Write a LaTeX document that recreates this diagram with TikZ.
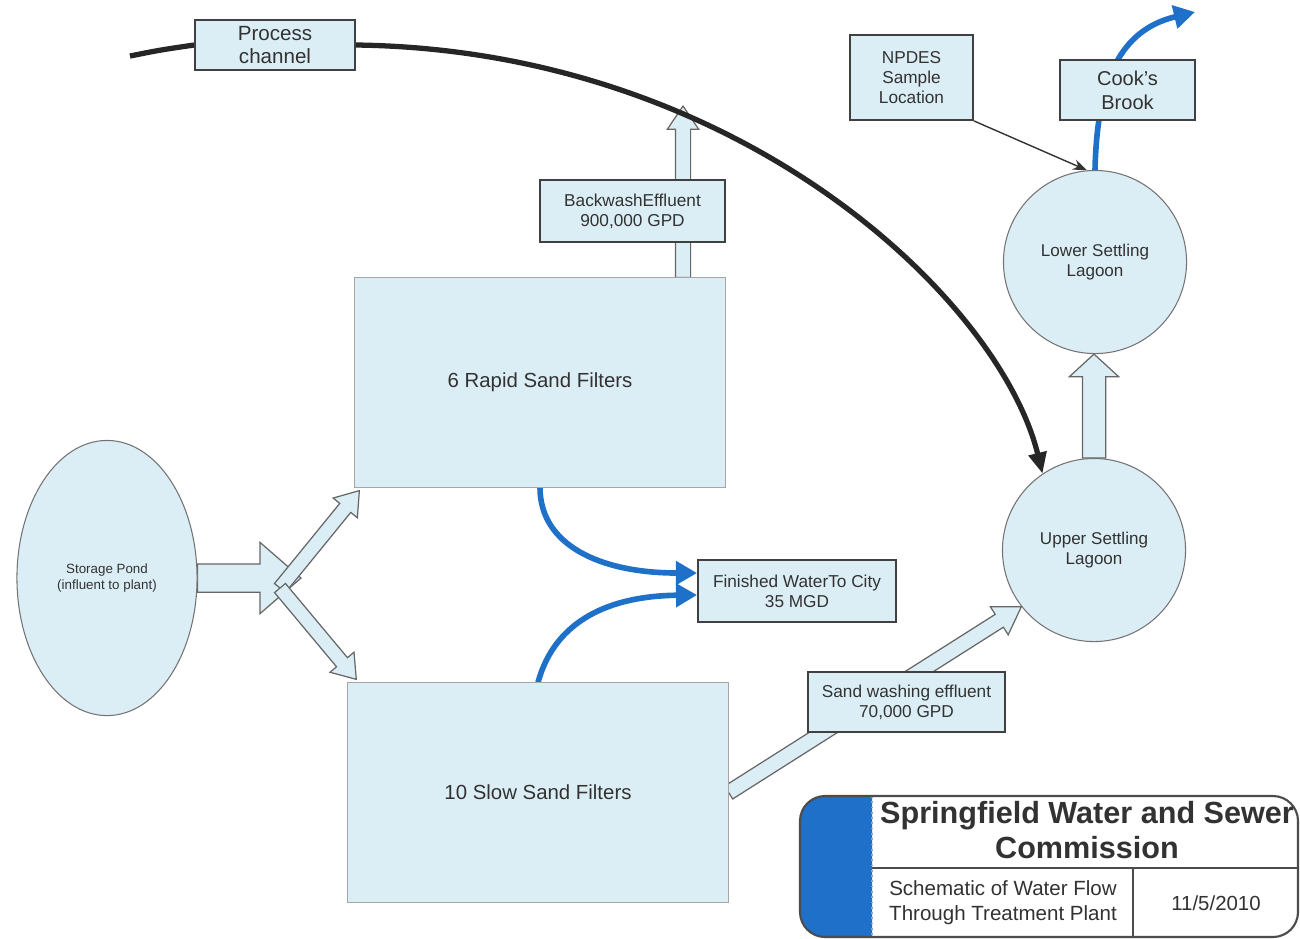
\documentclass[tikz,border=0pt]{standalone}
\usepackage{fontspec}
\setmainfont{Liberation Sans}
\usetikzlibrary{shapes.geometric,shapes.arrows,arrows.meta,calc,backgrounds}

\definecolor{pale}{RGB}{220,238,245}
\definecolor{flowblue}{RGB}{30,112,200}
\definecolor{inkgrey}{RGB}{50,50,50}

% wide outlined flow arrow from #2 to #3
\newcommand{\hollowarrow}[3][]{%
  \path let \p1=($(#3)-(#2)$), \n1={atan2(\y1,\x1)}, \n2={veclen(\x1,\y1)} in
    node[flowarrow,#1,minimum height=\n2,rotate=\n1,anchor=tail] at (#2) {};}

\begin{document}
\begin{tikzpicture}[
        x=0.01cm, y=-0.01cm,
        every node/.style = {text=inkgrey},
        box/.style = {draw=black!75, line width=0.5pt, fill=pale, align=center, inner sep=0pt,
                      font=\fontsize{4.9}{5.7}\selectfont},
        filterbox/.style = {draw=black!35, line width=0.3pt, fill=pale, inner sep=0pt,
                      font=\fontsize{5.8}{6.8}\selectfont},
        lagoon/.style = {circle, draw=black!55, line width=0.3pt, fill=pale, minimum size=1.83cm,
                      align=center, inner sep=0pt, font=\fontsize{4.85}{5.7}\selectfont},
        flowarrow/.style = {single arrow, draw=black!60, line width=0.35pt, fill=pale,
                      inner xsep=0pt, minimum width=0pt, outer sep=0pt},
        blueflow/.style = {flowblue, line width=1.6pt, -{Triangle[length=6pt,width=6.5pt]}},
        channel/.style = {black!85, line width=1.5pt}
        ]
    \useasboundingbox (0,0) rectangle (1300,938);
    \clip (0,0) rectangle (1300,938);

    % main units
    \node[filterbox, minimum width=3.7cm, minimum height=2.09cm] (rapid) at (540,382.5) {6 Rapid Sand Filters};
    \node[filterbox, minimum width=3.8cm, minimum height=2.19cm] (slow) at (538,792.5) {10 Slow Sand Filters};
    \node[ellipse, draw=black!55, line width=0.3pt, fill=pale, minimum width=1.8cm, minimum height=2.75cm,
          align=center, inner sep=0pt, font=\fontsize{3.8}{4.6}\selectfont] (pond) at (107,578)
          {Storage Pond\\(influent to plant)};
    \node[lagoon] (lower) at (1095,262) {Lower Settling\\Lagoon};
    \node[lagoon] (upper) at (1094,550) {Upper Settling\\Lagoon};

    % labels
    \node[box, font=\fontsize{5.85}{6.8}\selectfont, minimum width=1.6cm, minimum height=0.5cm] (pc) at (275,45) {Process\\channel};
    \node[box, minimum width=1.23cm, minimum height=0.85cm] (npdes) at (911.5,77.5) {NPDES\\Sample\\Location};
    \node[box, font=\fontsize{5.7}{6.8}\selectfont, minimum width=1.35cm, minimum height=0.6cm] (brook) at (1127.5,90) {Cook's\\Brook};
    \node[box, minimum width=1.85cm, minimum height=0.62cm] (bw) at (632.5,211) {BackwashEffluent\\900,000 GPD};
    \node[box, minimum width=1.98cm, minimum height=0.62cm] (fin) at (797,591) {Finished WaterTo City\\35 MGD};
    \node[box, minimum width=1.97cm, minimum height=0.6cm] (sw) at (906.5,702) {Sand washing effluent\\70,000 GPD};

    \coordinate (chstart) at (130,56);
    \coordinate (pondtip) at (301,578);
    \coordinate (split) at (280,588);
    \coordinate (rapidin) at ($(rapid.south west)+(5,3)$);
    \coordinate (slowin) at ($(slow.north west)+(9,-3)$);
    \coordinate (bwtip) at (683,106);
    \coordinate (bwfoot) at (bwtip |- rapid.north);
    \coordinate (lowerin) at (upper.north |- lower.south);
    \coordinate (finA) at ($(fin.west)+(0,-18)$);
    \coordinate (finB) at ($(fin.west)+(0,4)$);
    \coordinate (brookout) at (1195,12);

    \begin{scope}[on background layer]
        \hollowarrow[inner ysep=0.135cm, single arrow head extend=0.215cm, single arrow tip angle=82]{pond.east}{pondtip}
        \hollowarrow[inner ysep=0.065cm, single arrow head extend=0.085cm, single arrow tip angle=70]{split}{rapidin}
        \hollowarrow[inner ysep=0.065cm, single arrow head extend=0.085cm, single arrow tip angle=70]{split}{slowin}
        \hollowarrow[inner ysep=0.07cm, single arrow head extend=0.08cm, single arrow tip angle=68]{bwfoot}{bwtip}
        \hollowarrow[inner ysep=0.11cm, single arrow head extend=0.13cm, single arrow tip angle=95]{upper.north}{lowerin}
        \hollowarrow[inner ysep=0.07cm, single arrow head extend=0.09cm, single arrow tip angle=65]{slow.east}{upper.218}

        % process channel to the lagoons
        \draw[channel] (chstart) .. controls (160,50) .. (pc.west);
        \draw[channel, -{Triangle[length=6pt,width=5pt]}] (pc.east) .. controls (740,50) and (1000,300) .. (upper.124);

        % finished water and outfall
        \draw[blueflow] (rapid.south) .. controls (540,545) and (600,573) .. (finA);
        \draw[blueflow] (slow.north) .. controls (555,620) and (610,596) .. (finB);
        \draw[blueflow] (lower.north) .. controls (1097,80) and (1120,30) .. (brookout);

        \draw[black!80, line width=0.4pt, -{Stealth[length=4pt,width=3pt]}] (npdes.south east) -- (lower.95);
    \end{scope}

    % title block
    \fill[white, rounded corners=0.25cm] (800,796) rectangle (1298,937);
    \begin{scope}
        \clip (800,796) rectangle (872,937);
        \fill[flowblue, rounded corners=0.25cm] (800,796) rectangle (900,937);
    \end{scope}
    \draw[densely dotted, flowblue!60, line width=0.5pt] (872,796) -- (872,937);
    \draw[black!70, line width=0.6pt, rounded corners=0.25cm] (800,796) rectangle (1298,937);
    \draw[black!70, line width=0.5pt] (872,868) -- (1298,868);
    \draw[black!70, line width=0.5pt] (1133,868) -- (1133,937);
    \node[align=center, font=\bfseries\fontsize{8.7}{10.2}\selectfont] (ttl) at (1087,830) {Springfield Water and Sewer\\Commission};
    \node[align=center, font=\fontsize{5.84}{7.1}\selectfont] (subj) at (1003,903) {Schematic of Water Flow\\Through Treatment Plant};
    \node[font=\fontsize{5.8}{7}\selectfont] (date) at (1216,903) {11/5/2010};
\end{tikzpicture}
\end{document}
